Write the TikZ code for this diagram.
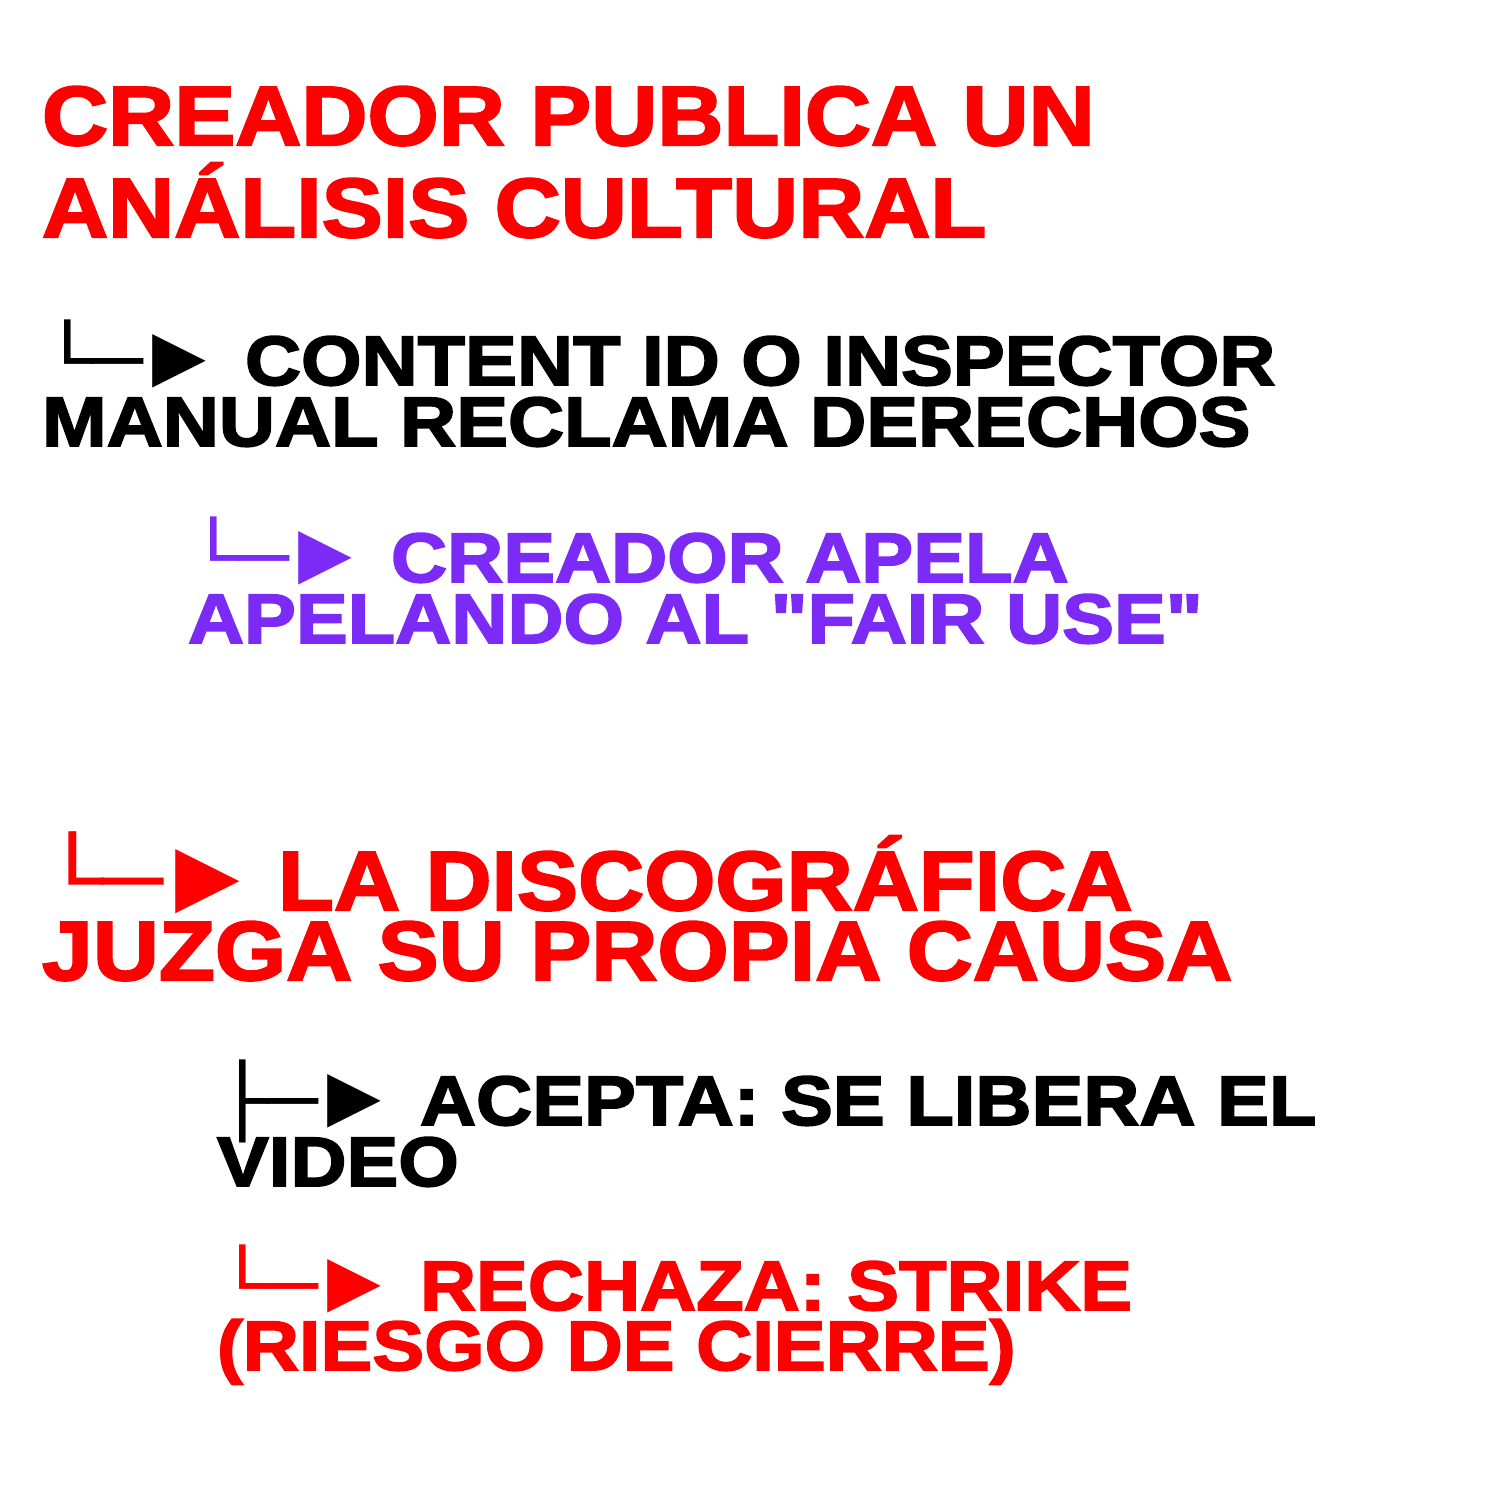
\documentclass[tikz,border=0pt]{standalone}
\usepackage{fontspec}
\newfontfamily\heavy{Liberation Sans Bold}[FakeStretch=1.11,FakeBold=2.5]
\newfontfamily\heavybig{Liberation Sans Bold}[FakeStretch=1.09,FakeBold=2.5]
\newfontfamily\boxfont{DejaVu Sans}[FakeStretch=1.2]
\newfontfamily\arrfont{DejaVu Sans}
\definecolor{ttred}{HTML}{FF0000}
\definecolor{ttpurple}{HTML}{7B2BF5}
\definecolor{ttblack}{HTML}{000000}
\newcommand\pfx[2][2.9em]{\makebox[#1][l]{{\boxfont #2─}\hspace{0.14em}\raisebox{0.08em}{\arrfont ▶}}}
\tikzset{
  ln/.style={anchor=base west, inner sep=0pt, outer sep=0pt},
  big/.style={ln, font=\heavybig\fontsize{84}{84}\selectfont},
  mid/.style={ln, font=\heavy\fontsize{70}{70}\selectfont},
}
\begin{document}
\begin{tikzpicture}[x=1pt,y=-1pt]
\useasboundingbox[fill=white] (0,0) rectangle (1500,1500);
% block 1
\node[big, text=ttred] (t1a) at (42,145) {CREADOR PUBLICA UN};
\node[big, text=ttred] (t1b) at (42,237) {ANÁLISIS CULTURAL};
% block 2
\node[mid, text=ttblack] (t2a) at (42,385) {\pfx{└}CONTENT ID O INSPECTOR};
\node[mid, text=ttblack] (t2b) at (42,446) {MANUAL RECLAMA DERECHOS};
% block 3
\node[mid, text=ttpurple] (t3a) at (188,582) {\pfx{└}CREADOR APELA};
\node[mid, text=ttpurple] (t3b) at (188,643) {APELANDO AL "FAIR USE"};
% block 4
\node[big, text=ttred] (t4a) at (42,910) {\pfx[2.81em]{└}LA DISCOGRÁFICA};
\node[big, text=ttred] (t4b) at (42,980) {JUZGA SU PROPIA CAUSA};
% block 5
\node[mid, text=ttblack] (t5a) at (217,1125) {\pfx{├}ACEPTA: SE LIBERA EL};
\node[mid, text=ttblack] (t5b) at (217,1186) {VIDEO};
% block 6
\node[mid, text=ttred] (t6a) at (217,1310) {\pfx{└}RECHAZA: STRIKE};
\node[mid, text=ttred] (t6b) at (217,1370) {(RIESGO DE CIERRE)};
\end{tikzpicture}
\end{document}
